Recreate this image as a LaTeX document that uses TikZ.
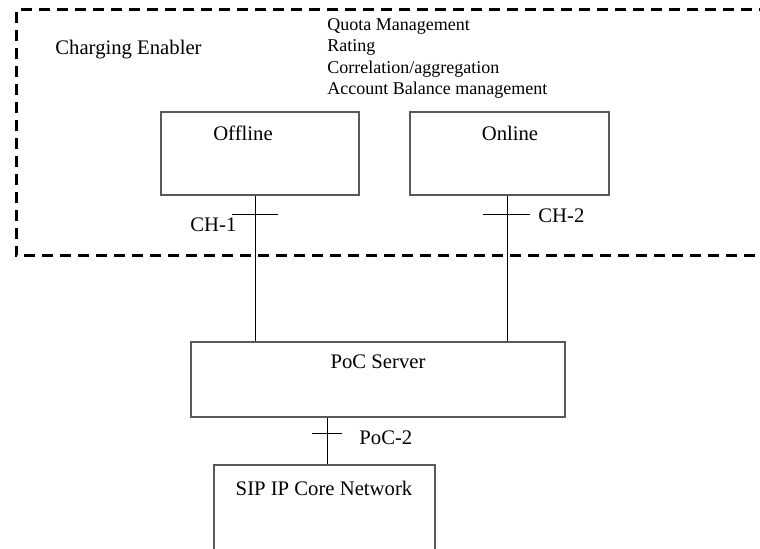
\documentclass[tikz,border=0pt]{standalone}
\usepackage{fontspec}
\setmainfont{Liberation Serif}
\begin{document}
\begin{tikzpicture}[x=0.5pt,y=-0.5pt,
  box/.style={draw=black!65,line width=0.6pt,fill=none,rectangle,inner sep=0pt},
  lbl/.style={inner sep=0pt,font=\fontsize{10.35}{12}\selectfont},
  sml/.style={inner sep=0pt,anchor=base west,font=\fontsize{9}{10.6}\selectfont},
  conn/.style={draw=black,line width=0.5pt},
  enc/.style={line width=1.5pt,dash pattern=on 5.5pt off 3.5pt}]
\useasboundingbox (0,0) rectangle (760,549);
% enabler boundary
\draw[enc] (770,10) -- (16,10) -- (16,256) -- (770,256);
% boxes
\node[box,minimum width=99pt,minimum height=41.5pt] (off) at (260,153.5) {};
\node[box,minimum width=99.5pt,minimum height=41.5pt] (on) at (509.5,153.5) {};
\node[box,minimum width=187pt,minimum height=37.5pt] (poc) at (378,379.5) {};
\node[box,minimum width=110.5pt,minimum height=47.5pt] (sip) at (324.5,512.5) {};
% labels
\node[lbl,anchor=base west] (ce) at (55,55) {Charging Enabler};
\node[sml] (t1) at (327,31) {Quota Management};
\node[sml] (t2) at (327,52) {Rating};
\node[sml] (t3) at (327,74) {Correlation/aggregation};
\node[sml] (t4) at (327,95) {Account Balance management};
\node[lbl,anchor=base] (offl) at (243,141) {Offline};
\node[lbl,anchor=base] (onl) at (510,141) {Online};
\node[lbl,anchor=base] (pocl) at (378,369) {PoC Server};
\node[lbl,anchor=base] (sipl) at (324,496) {SIP IP Core Network};
\node[lbl,anchor=base west] (ch1) at (190,232) {CH-1};
\node[lbl,anchor=base west] (ch2) at (538,223) {CH-2};
\node[lbl,anchor=base west] (poc2) at (359,445) {PoC-2};
% connectors
\draw[conn] ([xshift=-2.5pt]off.south) -- ([xshift=-2.5pt]off.south |- poc.north);
\draw[conn] ([xshift=-1.25pt]on.south) -- ([xshift=-1.25pt]on.south |- poc.north);
\draw[conn] ([xshift=1.25pt]sip.north) -- ([xshift=1.25pt]sip.north |- poc.south);
% reference point ticks
\draw[conn] (232,215) -- (278,215);
\draw[conn] (483,215) -- (530,215);
\draw[conn] (312,434) -- (342,434);
\end{tikzpicture}
\end{document}
